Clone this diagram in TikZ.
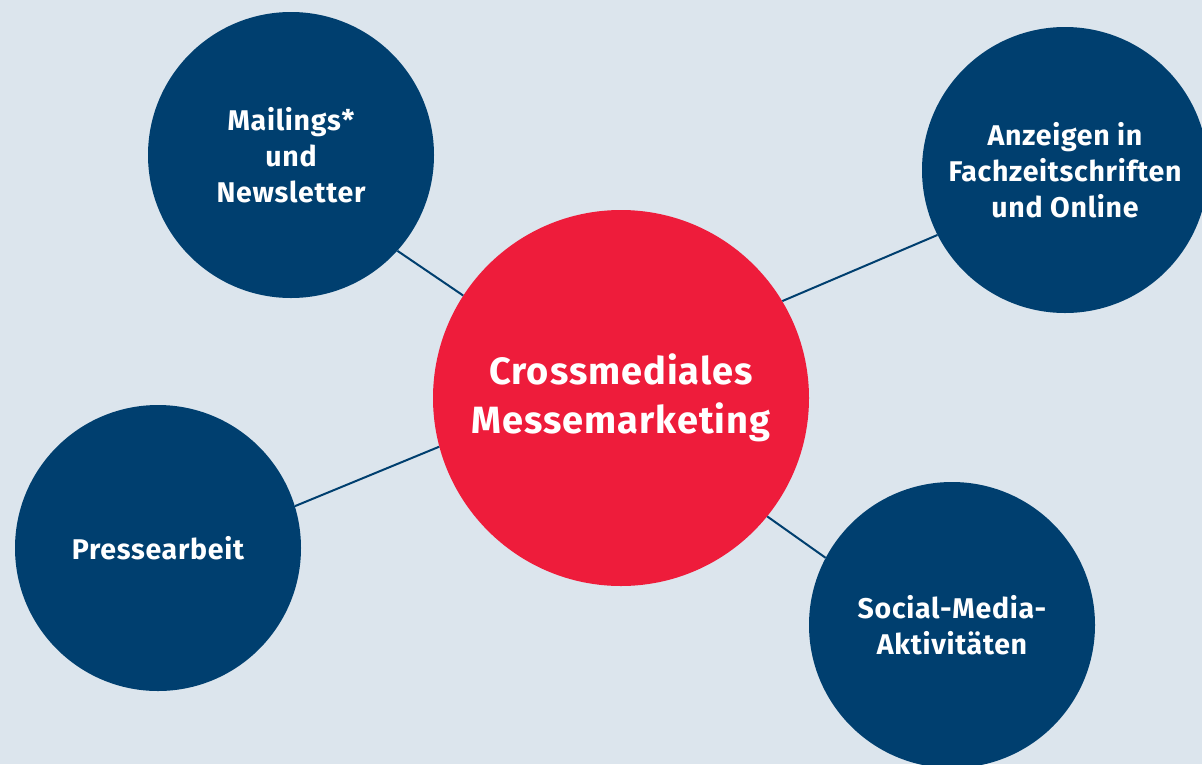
\documentclass[tikz,border=0pt]{standalone}
\usepackage{fontspec}
\setmainfont{Fira Sans}
\usepackage{tikz}
\usetikzlibrary{positioning}
\definecolor{hintergrund}{HTML}{DCE5ED}
\definecolor{dunkelblau}{HTML}{003F6F}
\definecolor{messerot}{HTML}{EE1C3B}
\newfontfamily\weitfont[LetterSpace=2.5]{Fira Sans}
\tikzstyle{kanal}=[circle, fill=dunkelblau, text=white, minimum size=286pt,
inner sep=0pt, align=center, font=\weitfont\bfseries\fontsize{28.5}{36}\selectfont]
\tikzstyle{mitte}=[circle, fill=messerot, text=white, minimum size=376pt,
inner sep=0pt, align=center, font=\weitfont\bfseries\fontsize{38}{49}\selectfont]
\tikzstyle{verbindung}=[draw, line width=2pt, color=dunkelblau]

\begin{document}
\begin{tikzpicture}[x=1pt,y=-1pt]

	% Hintergrund
	\fill[hintergrund] (0,0) rectangle (1202,764);
	\useasboundingbox (0,0) rectangle (1202,764);
	\clip (0,0) rectangle (1202,764);

	% Kreise
	\node[mitte] (mm) at (621,398) {Crossmediales\\Messemarketing};
	\node[kanal] (mail) at (291,155) {Mailings*\\und\\Newsletter};
	\node[kanal] (anz) at (1065,170) {Anzeigen in\\Fachzeitschriften\\und Online};
	\node[kanal] (presse) at (158,548) {Pressearbeit};
	\node[kanal] (social) at (952,625) {Social-Media-\\Aktivit\"aten};

	% Verbindungen
	\path [verbindung] (mm.147) -- (mail.-42);
	\path [verbindung] (mm.31) -- (anz.207);
	\path [verbindung] (mm.195) -- (presse.17);
	\path [verbindung] (mm.-39) -- (social.152);
\end{tikzpicture}
\end{document}
